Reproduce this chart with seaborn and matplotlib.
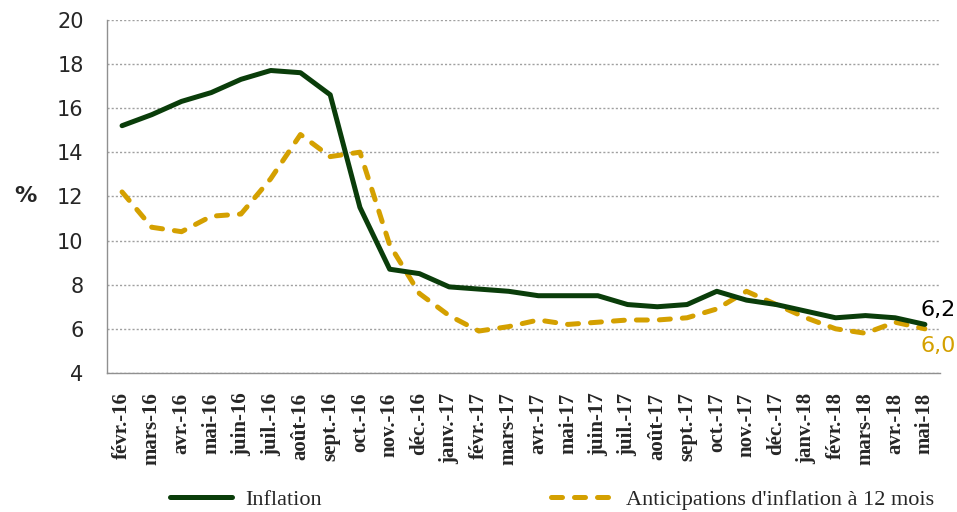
import matplotlib
import matplotlib.pyplot as plt
import seaborn as sns
import pandas as pd
import numpy as np

matplotlib.use('Agg')

months = ['févr.-16', 'mars-16', 'avr.-16', 'mai-16', 'juin-16', 'juil.-16', 'août-16',
          'sept.-16', 'oct.-16', 'nov.-16', 'déc.-16', 'janv.-17', 'févr.-17', 'mars-17',
          'avr.-17', 'mai-17', 'juin-17', 'juil.-17', 'août-17', 'sept.-17', 'oct.-17',
          'nov.-17', 'déc.-17', 'janv.-18', 'févr.-18', 'mars-18', 'avr.-18', 'mai-18']
inflation = [15.2, 15.7, 16.3, 16.7, 17.3, 17.7, 17.6, 16.6, 11.5, 8.7, 8.5, 7.9, 7.8, 7.7,
             7.5, 7.5, 7.5, 7.1, 7.0, 7.1, 7.7, 7.3, 7.1, 6.8, 6.5, 6.6, 6.5, 6.2]
anticipations = [12.2, 10.6, 10.4, 11.1, 11.2, 12.8, 14.8, 13.8, 14.0, 9.8, 7.6, 6.6, 5.9, 6.1,
                 6.4, 6.2, 6.3, 6.4, 6.4, 6.5, 6.9, 7.7, 7.1, 6.5, 6.0, 5.8, 6.3, 6.0]
y_ticks = [4, 6, 8, 10, 12, 14, 16, 18, 20]

green = '#0a3d0a'
gold = '#d4a000'

df = pd.DataFrame({'mois': months, 'Inflation': inflation,
                   'Anticipations': anticipations})

sns.set_style('white')
plt.rcParams['font.family'] = ['DejaVu Sans']

fig = plt.figure(figsize=(9.57, 5.12), dpi=100)
ax = fig.add_axes([0.112, 0.2715, 0.87, 0.69])

sns.lineplot(data=df, x='mois', y='Anticipations', ax=ax, sort=False, color=gold,
             linewidth=3.6, linestyle=(0, (2.2, 2.4)), dash_capstyle='round',
             label="Anticipations d'inflation à 12 mois")
sns.lineplot(data=df, x='mois', y='Inflation', ax=ax, sort=False, color=green,
             linewidth=3.6, label='Inflation')
if ax.get_legend() is not None:
    ax.get_legend().remove()

ax.set_xlim(-0.5, len(months) - 0.5)
ax.set_ylim(4, 20)
ax.set_yticks(y_ticks)
ax.set_yticklabels([str(t) for t in y_ticks], fontsize=15)
ax.tick_params(axis='y', length=0, pad=17)
ax.yaxis.grid(True, linestyle=(0, (1.5, 1.5)), color='#a0a0a0', linewidth=1)
ax.set_axisbelow(True)

ax.set_xticks(range(len(months)))
ax.set_xticklabels(months, rotation=90, fontsize=15, fontweight='bold',
                   family='Liberation Serif')
ax.set_xticks(np.arange(-0.5, len(months), 1), minor=True)
ax.tick_params(axis='x', which='major', length=0, pad=14)
ax.tick_params(axis='x', which='minor', direction='in', length=5.5, color='#909090', width=1)
ax.set_xlabel('')
ax.set_ylabel('')

for s in ['top', 'right']:
    ax.spines[s].set_visible(False)
for s in ['left', 'bottom']:
    ax.spines[s].set_color('#909090')
    ax.spines[s].set_linewidth(1)

# "%" sits left of the tick labels, level with 12
ax.text(-0.098, 0.5, '%', transform=ax.transAxes, fontsize=16, fontweight='bold',
        ha='center', va='center')

ax.annotate('6,2', xy=(len(months) - 1, inflation[-1]), xytext=(-3, 3),
            textcoords='offset points', fontsize=16, color='black', ha='left', va='bottom')
ax.annotate('6,0', xy=(len(months) - 1, anticipations[-1]), xytext=(-3, -5),
            textcoords='offset points', fontsize=16, color=gold, ha='left', va='top')

handles, labels = ax.get_legend_handles_labels()
order = [labels.index('Inflation'), labels.index("Anticipations d'inflation à 12 mois")]
fig.legend([handles[i] for i in order], [labels[i] for i in order], loc='center',
           bbox_to_anchor=(0.577, 0.024), ncol=2, frameon=False,
           prop={'family': 'Liberation Serif', 'size': 16}, handlelength=2.8,
           handletextpad=0.6, columnspacing=10.3)

fig.savefig('out.png', dpi=100)
